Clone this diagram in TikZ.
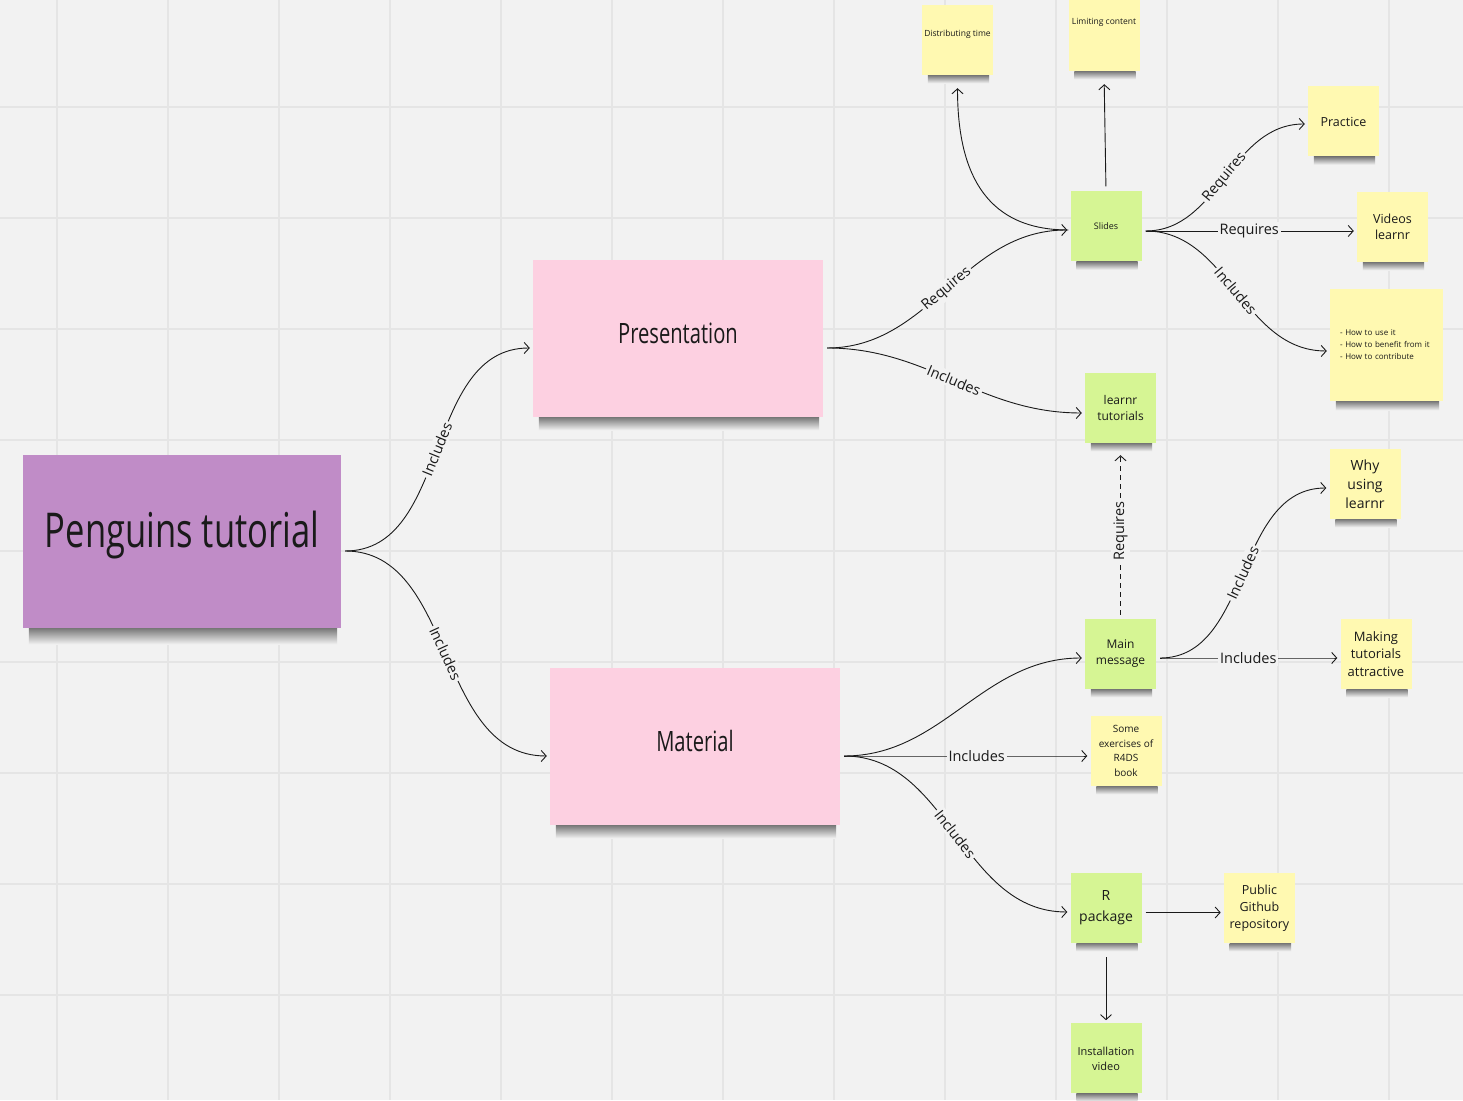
\documentclass[tikz,border=0pt]{standalone}
\usepackage{fontspec}
\setmainfont{Open Sans}
\newfontfamily\handfont[FakeStretch=0.72]{Open Sans}
\usepackage{tikz}
\usetikzlibrary{arrows.meta, positioning}
\definecolor{colorCanvas}{RGB}{242,242,242}
\definecolor{colorGrid}{RGB}{229,229,229}
\definecolor{colorShadow}{RGB}{120,120,120}
\definecolor{colorPurple}{RGB}{192,140,199}
\definecolor{colorPink}{RGB}{253,208,225}
\definecolor{colorGreen}{RGB}{214,245,148}
\definecolor{colorYellow}{RGB}{255,249,177}
\definecolor{colorInk}{RGB}{26,26,26}
\newcommand{\fsz}[2]{\fontsize{#1pt}{#2pt}\selectfont}
\tikzset{
  sticky/.style={rectangle, inner sep=1pt, align=center, text=colorInk,
    minimum width=71pt, minimum height=70pt},
  bignote/.style={sticky, fill=colorPink, minimum width=290pt, minimum height=157pt,
    text height=82.5pt, text depth=72.5pt, font=\handfont\fsz{28}{30}},
  greennote/.style={sticky, fill=colorGreen},
  yellownote/.style={sticky, fill=colorYellow},
  shadowstrip/.style={top color=colorShadow, bottom color=colorCanvas, draw=none},
  link/.style={->, line width=0.9pt, colorInk, shorten <=4pt, shorten >=3pt},
  lbl/.style={sloped, fill=colorCanvas, inner sep=2pt, text=colorInk, font=\fsz{14.5}{15}},
}

\begin{document}
\begin{tikzpicture}[x=1pt, y=1pt, >={Straight Barb[length=5pt, width=11pt]}]
\useasboundingbox[fill=colorCanvas] (0,0) rectangle (1463,1100);
\foreach \gx in {57,168,...,1400} \draw[colorGrid, line width=1.2pt] (\gx,0) -- (\gx,1100);
\foreach \gy in {105,216,...,1000} \draw[colorGrid, line width=1.2pt] (0,\gy) -- (1463,\gy);

% main notes
\node[sticky, fill=colorPurple, minimum width=318pt, minimum height=173pt,
  text height=91.5pt, text depth=79.5pt, font=\handfont\fsz{48}{48}] (pt) at (182,558.5) {Penguins tutorial};
\node[bignote] (pres) at (678,761.5) {Presentation};
\node[bignote] (mat) at (695,353.5) {Material};

% presentation branch
\node[greennote, font=\fsz{9}{11}] (slides) at (1106,873.5) {Slides};
\node[yellownote, font=\fsz{8.5}{10}, text height=31pt, text depth=37pt] (dist) at (957.5,1060) {Distributing time};
\node[yellownote, font=\fsz{8.5}{10}, text height=24pt, text depth=45pt] (limit) at (1104,1064.5) {Limiting content};
\node[yellownote, font=\fsz{12.5}{16}] (practice) at (1343.5,978.5) {Practice};
\node[yellownote, font=\fsz{12.5}{16}] (videos) at (1392.5,873) {Videos\\learnr};
\node[yellownote, align=left, text width=93pt, minimum width=113pt, minimum height=112pt, font=\fsz{8}{12}] (howto) at (1386.5,755) {- How to use it\\- How to benefit from it\\- How to contribute};
\node[greennote, font=\fsz{12}{16}] (lt) at (1120.5,692) {learnr\\tutorials};

% material branch
\node[greennote, font=\fsz{12}{16}] (mm) at (1120.5,446) {Main\\message};
\node[yellownote, font=\fsz{14}{19}] (why) at (1365,616) {Why\\using\\learnr};
\node[yellownote, font=\fsz{13}{17.5}] (mta) at (1376,446) {Making\\tutorials\\attractive};
\node[yellownote, font=\fsz{10}{14.5}] (some) at (1126,349) {Some\\exercises of\\R4DS\\book};
\node[greennote, font=\fsz{14}{21}] (rpkg) at (1106,192) {R\\package};
\node[yellownote, font=\fsz{12.5}{17}, right=82pt of rpkg] (pub) {Public\\Github\\repository};
\node[greennote, font=\fsz{11}{15}, below=80pt of rpkg] (inst) {Installation\\video};

% shadows under the notes
\foreach \n/\d in {pt/16, pres/13, mat/13, slides/8, dist/8, limit/8, practice/8, videos/8, howto/9,
  lt/8, mm/8, why/8, mta/8, some/8, rpkg/8, pub/8, inst/8}
  \shade[shadowstrip] ([xshift=6pt]\n.south west) rectangle ([xshift=-4pt, yshift=-\d pt]\n.south east);

% connectors
\draw[link] ([yshift=-9.5pt]pt.east) to[out=0, in=180] node[lbl] {Includes} ([yshift=-9.5pt]pres.west);
\draw[link] ([yshift=-9.5pt]pt.east) to[out=0, in=180] node[lbl] {Includes} ([yshift=-9.5pt]mat.west);
\draw[link] ([yshift=-9.5pt]pres.east) to[out=0, in=180] node[lbl] {Requires} ([yshift=-3.5pt]slides.west);
\draw[link] ([yshift=-9.5pt]pres.east) to[out=0, in=180] node[lbl] {Includes} ([yshift=-5pt]lt.west);
\draw[link, shorten <=2pt, shorten >=13pt] ([yshift=-3.5pt]slides.west) to[out=180, in=-90, looseness=1.2] (dist.south);
\draw[link, shorten <=5pt, shorten >=13pt] (slides.north) -- (limit.south);
\draw[link] ([yshift=-4.5pt]slides.east) to[out=0, in=180] node[lbl] {Requires} ([yshift=-2.5pt]practice.west);
\draw[link] ([yshift=-4.5pt]slides.east) to[out=0, in=180] node[lbl] {Requires} ([yshift=-4pt]videos.west);
\draw[link] ([yshift=-4.5pt]slides.east) to[out=0, in=180] node[lbl] {Includes} ([yshift=-6pt]howto.west);
\draw[link, dash pattern=on 5pt off 4pt, shorten >=12pt] (mm.north) -- node[lbl] {Requires} (lt.south);
\draw[link] ([yshift=-4pt]mm.east) to[out=0, in=180] node[lbl] {Includes} ([yshift=-4pt]why.west);
\draw[link] ([yshift=-4pt]mm.east) to[out=0, in=180] node[lbl] {Includes} ([yshift=-4pt]mta.west);
\draw[link] ([yshift=-9.5pt]mat.east) to[out=0, in=180] ([yshift=-4pt]mm.west);
\draw[link] ([yshift=-9.5pt]mat.east) to[out=0, in=180] node[lbl, pos=0.55] {Includes} ([yshift=-5pt]some.west);
\draw[link] ([yshift=-9.5pt]mat.east) to[out=0, in=180] node[lbl] {Includes} ([yshift=-4pt]rpkg.west);
\draw[link] ([yshift=-4.5pt]rpkg.east) -- ([yshift=-4.5pt]pub.west);
\draw[link, shorten <=14pt] (rpkg.south) -- (inst.north);
\end{tikzpicture}
\end{document}
